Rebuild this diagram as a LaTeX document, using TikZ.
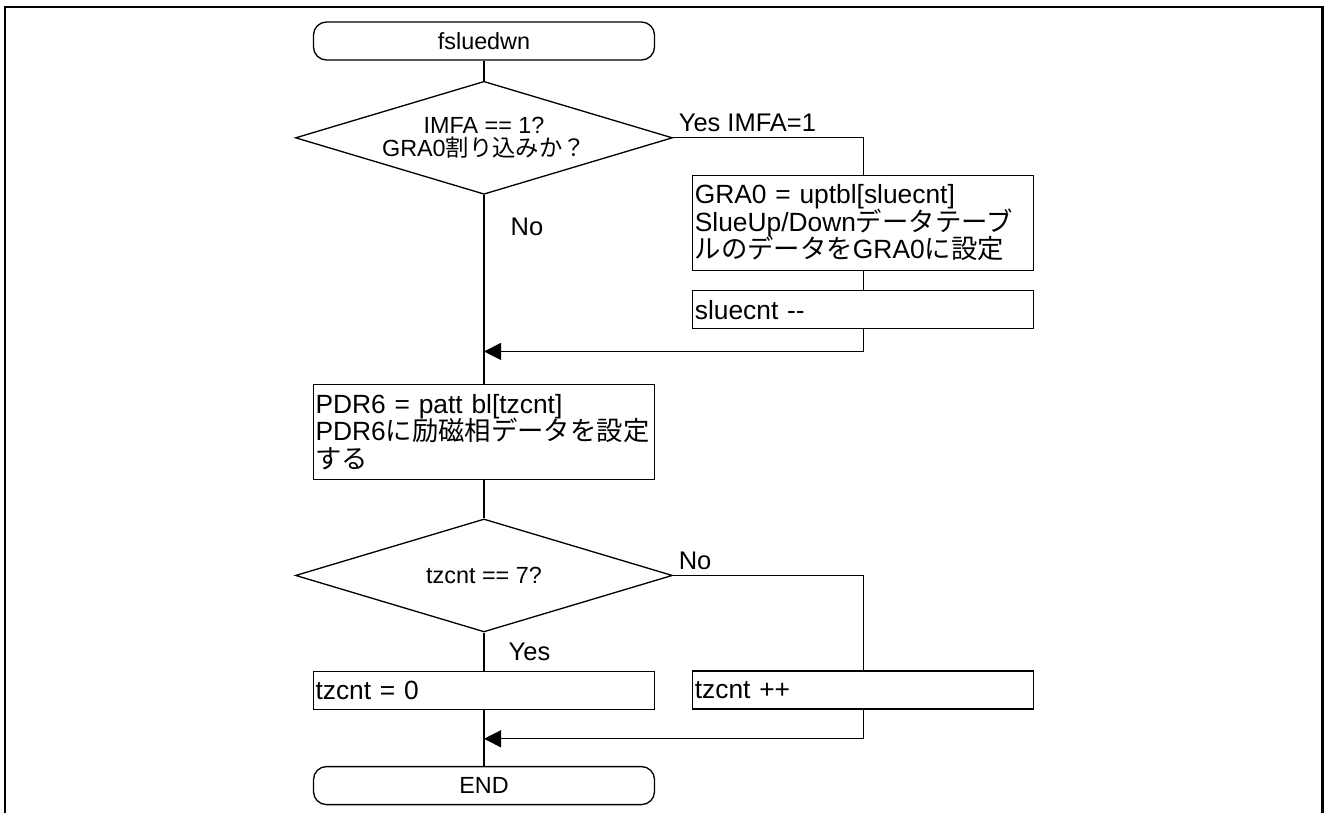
\documentclass[tikz,border=0pt]{standalone}
\usepackage{fontspec}
\setmainfont{Liberation Sans}
\newfontfamily\jpfont{Noto Sans CJK JP}
\newcommand\tightskip{\setlength{\lineskiplimit}{-5pt}\setlength{\lineskip}{0pt}}
\usepackage{tikz}
\usetikzlibrary{arrows.meta,positioning,shapes.geometric,calc}
\tikzset{
  tbox/.style={draw, line width=0.75pt, rounded corners=2.6mm, minimum width=68.2mm, minimum height=7.6mm, inner sep=0pt, font={\fontsize{13.3}{13.3}\selectfont}},
  dbox/.style={draw, line width=0.75pt, diamond, aspect=3.34, inner sep=-1mm, minimum width=75.4mm, minimum height=22.6mm, align=center, font={\fontsize{13.3}{13.3}\selectfont\tightskip}},
  pbox/.style={draw, line width=0.75pt, rectangle, inner xsep=0.4mm, inner ysep=0pt, text width=67.4mm, minimum height=7.6mm, align=left, font={\fontsize{15}{15.6}\selectfont\tightskip}},
  flbl/.style={inner sep=1mm, font={\fontsize{14.5}{14.5}\selectfont}},
  fline/.style={line width=0.75pt},
  farr/.style={-{Triangle[length=3.4mm, width=3.4mm]}, line width=0.75pt}
}

\begin{document}
\begin{tikzpicture}
\useasboundingbox (0,0) rectangle (26.48,-16.26);
% outer frame
\draw[line width=1.7pt] (0.1,-16.26) -- (0.1,-0.14) -- (26.44,-0.14) -- (26.44,-16.26);
\node[tbox] (start) at (9.68,-0.82) {fsluedwn};
\node[dbox, below=4mm of start] (imfa) {IMFA == 1?\\GRA0{\jpfont 割り込みか？}};
\node[pbox, minimum height=19mm, below right=7.4mm and 3.8mm of imfa.east] (setgra) {GRA0 = uptbl[sluecnt]\\SlueUp/Down{\jpfont データテーブ}\\{\jpfont ルのデータを}GRA0{\jpfont に設定}};
\node[pbox, below=3.8mm of setgra] (cnt1) {sluecnt -{}-};
\node[pbox, minimum height=19mm, below=37.8mm of imfa] (pdr) {PDR6 = patt bl[tzcnt]\\PDR6{\jpfont に励磁相データを設定}\\{\jpfont する}};
\node[dbox, below=7.6mm of pdr] (tz) {tzcnt == 7?};
\node[pbox, below=7.6mm of tz] (zero) {tzcnt = 0};
\node[pbox, below right=19mm and 3.8mm of tz.east] (inc) {tzcnt ++};
\node[tbox, below=11.2mm of zero] (finish) {END};
% connectors
\draw[fline] (start) -- (imfa);
\draw[fline] (imfa.east) -| node[flbl, pos=0, above right]{Yes IMFA=1} (setgra.north);
\draw[fline] (setgra) -- (cnt1);
\coordinate (join1) at ($(imfa.south |- cnt1.south)+(0,-4.4mm)$);
\draw[farr] (cnt1.south) |- (join1);
\draw[fline] (imfa.south) -- node[flbl, pos=0.17, right=4.2mm]{No} (pdr.north);
\draw[fline] (pdr) -- (tz);
\draw[fline] (tz.east) -| node[flbl, pos=0, above right]{No} (inc.north);
\draw[fline] (tz) -- node[flbl, right=3.8mm]{Yes} (zero);
\coordinate (join2) at ($(tz.south |- inc.south)+(0,-5.8mm)$);
\draw[farr] (inc.south) |- (join2);
\draw[fline] (zero) -- (finish);
\end{tikzpicture}
\end{document}
